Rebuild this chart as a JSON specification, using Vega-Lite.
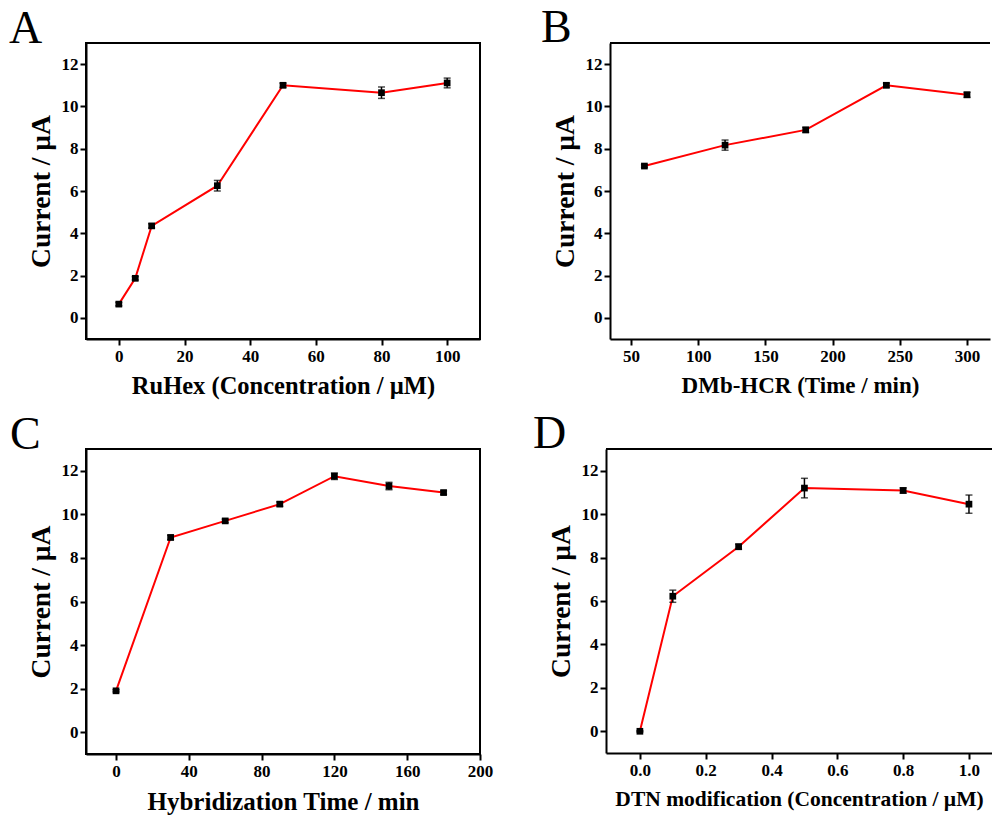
{
  "$schema": "https://vega.github.io/schema/vega-lite/v6.json",
  "background": "white",
  "padding": {"left": 8, "top": 5, "right": 0, "bottom": 0},
  "datasets": {
    "A": [
      {"x": 0, "y": 0.65, "err": 0.08},
      {"x": 5, "y": 1.87, "err": 0.08},
      {"x": 10, "y": 4.35, "err": 0.1},
      {"x": 30, "y": 6.25, "err": 0.25},
      {"x": 50, "y": 11.0, "err": 0.1},
      {"x": 80, "y": 10.65, "err": 0.27},
      {"x": 100, "y": 11.11, "err": 0.23}
    ],
    "B": [
      {"x": 60, "y": 7.18, "err": 0.06},
      {"x": 120, "y": 8.17, "err": 0.24},
      {"x": 180, "y": 8.89, "err": 0.12},
      {"x": 240, "y": 11.0, "err": 0.1},
      {"x": 300, "y": 10.55, "err": 0.12}
    ],
    "C": [
      {"x": 0, "y": 1.9, "err": 0.05},
      {"x": 30, "y": 8.94, "err": 0.1},
      {"x": 60, "y": 9.7, "err": 0.08},
      {"x": 90, "y": 10.47, "err": 0.1},
      {"x": 120, "y": 11.75, "err": 0.15},
      {"x": 150, "y": 11.3, "err": 0.17},
      {"x": 180, "y": 11.0, "err": 0.08}
    ],
    "D": [
      {"x": 0.0, "y": 0.0, "err": 0.03},
      {"x": 0.1, "y": 6.22, "err": 0.28},
      {"x": 0.3, "y": 8.5, "err": 0.12},
      {"x": 0.5, "y": 11.2, "err": 0.45},
      {"x": 0.8, "y": 11.09, "err": 0.12},
      {"x": 1.0, "y": 10.46, "err": 0.42}
    ]
  },
  "spacing": 12,
  "vconcat": [
    {
      "hconcat": [
        {
          "width": 394, "height": 296,
          "title": {"text": "A", "dx": -77},
          "data": {"name": "A"},
          "layer": [
            {
              "mark": {"type": "line", "color": "#ff0000", "strokeWidth": 2},
              "encoding": {
                "x": {"field": "x", "type": "quantitative", "title": "RuHex (Concentration / µM)", "scale": {"domain": [-10, 110], "nice": false, "zero": false},
                  "axis": {"values": [0, 10, 20, 30, 40, 50, 60, 70, 80, 90, 100], "titleFontSize": 24.5,
                    "labelExpr": "datum.value % 20 === 0 ? datum.label : ''",
                    "tickSize": {"condition": {"test": "datum.value % 20 !== 0", "value": 3}, "value": 6}}},
                "y": {"field": "y", "type": "quantitative", "title": "Current / µA", "scale": {"domain": [-1, 13], "nice": false, "zero": false},
                  "axis": {"values": [0, 1, 2, 3, 4, 5, 6, 7, 8, 9, 10, 11, 12],
                    "labelExpr": "datum.value % 2 === 0 ? datum.label : ''",
                    "tickSize": {"condition": {"test": "datum.value % 2 !== 0", "value": 3}, "value": 6}}}
              }
            },
            {
              "mark": {"type": "errorbar", "ticks": {"size": 7, "thickness": 1.5, "color": "black"}, "color": "black", "thickness": 1.5},
              "encoding": {
                "x": {"field": "x", "type": "quantitative", "title": "RuHex (Concentration / µM)", "scale": {"domain": [-10, 110], "nice": false, "zero": false}},
                "y": {"field": "y", "type": "quantitative", "title": "Current / µA", "scale": {"domain": [-1, 13], "nice": false, "zero": false}},
                "yError": {"field": "err"}
              }
            },
            {
              "mark": {"type": "square", "size": 45, "color": "black", "opacity": 1},
              "encoding": {
                "x": {"field": "x", "type": "quantitative", "title": "RuHex (Concentration / µM)", "scale": {"domain": [-10, 110], "nice": false, "zero": false}},
                "y": {"field": "y", "type": "quantitative", "title": "Current / µA", "scale": {"domain": [-1, 13], "nice": false, "zero": false}}
              }
            }
          ]
        },
        {
          "width": 380, "height": 296,
          "title": {"text": "B", "dx": -69},
          "view": {"stroke": null},
          "data": {"name": "B"},
          "layer": [
            {
              "mark": {"type": "rule", "color": "black", "strokeWidth": 2},
              "encoding": {"y": {"datum": 13, "title": "Current / µA", "scale": {"domain": [-1, 13], "nice": false, "zero": false}}}
            },
            {
              "mark": {"type": "line", "color": "#ff0000", "strokeWidth": 2},
              "encoding": {
                "x": {"field": "x", "type": "quantitative", "title": "DMb-HCR (Time / min)", "scale": {"domain": [34.4, 317.1], "nice": false, "zero": false},
                  "axis": {"values": [50, 75, 100, 125, 150, 175, 200, 225, 250, 275, 300], "titleFontSize": 23,
                    "labelExpr": "datum.value % 50 === 0 ? datum.label : ''",
                    "tickSize": {"condition": {"test": "datum.value % 50 !== 0", "value": 3}, "value": 6}}},
                "y": {"field": "y", "type": "quantitative", "title": "Current / µA", "scale": {"domain": [-1, 13], "nice": false, "zero": false},
                  "axis": {"values": [0, 1, 2, 3, 4, 5, 6, 7, 8, 9, 10, 11, 12],
                    "labelExpr": "datum.value % 2 === 0 ? datum.label : ''",
                    "tickSize": {"condition": {"test": "datum.value % 2 !== 0", "value": 3}, "value": 6}}}
              }
            },
            {
              "mark": {"type": "errorbar", "ticks": {"size": 7, "thickness": 1.5, "color": "black"}, "color": "black", "thickness": 1.5},
              "encoding": {
                "x": {"field": "x", "type": "quantitative", "title": "DMb-HCR (Time / min)", "scale": {"domain": [34.4, 317.1], "nice": false, "zero": false}},
                "y": {"field": "y", "type": "quantitative", "title": "Current / µA", "scale": {"domain": [-1, 13], "nice": false, "zero": false}},
                "yError": {"field": "err"}
              }
            },
            {
              "mark": {"type": "square", "size": 45, "color": "black", "opacity": 1},
              "encoding": {
                "x": {"field": "x", "type": "quantitative", "title": "DMb-HCR (Time / min)", "scale": {"domain": [34.4, 317.1], "nice": false, "zero": false}},
                "y": {"field": "y", "type": "quantitative", "title": "Current / µA", "scale": {"domain": [-1, 13], "nice": false, "zero": false}}
              }
            }
          ]
        }
      ],
      "spacing": 60
    },
    {
      "hconcat": [
        {
          "width": 394, "height": 305,
          "title": {"text": "C", "dx": -76},
          "data": {"name": "C"},
          "layer": [
            {
              "mark": {"type": "line", "color": "#ff0000", "strokeWidth": 2},
              "encoding": {
                "x": {"field": "x", "type": "quantitative", "title": "Hybridization Time / min", "scale": {"domain": [-16.5, 200.01], "nice": false, "zero": false},
                  "axis": {"values": [0, 20, 40, 60, 80, 100, 120, 140, 160, 180, 200], "labelFlush": false, "titleFontSize": 25,
                    "labelExpr": "datum.value % 40 === 0 ? datum.label : ''",
                    "tickSize": {"condition": {"test": "datum.value % 40 !== 0", "value": 3}, "value": 6}}},
                "y": {"field": "y", "type": "quantitative", "title": "Current / µA", "scale": {"domain": [-1, 13], "nice": false, "zero": false},
                  "axis": {"values": [0, 1, 2, 3, 4, 5, 6, 7, 8, 9, 10, 11, 12],
                    "labelExpr": "datum.value % 2 === 0 ? datum.label : ''",
                    "tickSize": {"condition": {"test": "datum.value % 2 !== 0", "value": 3}, "value": 6}}}
              }
            },
            {
              "mark": {"type": "errorbar", "ticks": {"size": 7, "thickness": 1.5, "color": "black"}, "color": "black", "thickness": 1.5},
              "encoding": {
                "x": {"field": "x", "type": "quantitative", "title": "Hybridization Time / min", "scale": {"domain": [-16.5, 200.01], "nice": false, "zero": false}},
                "y": {"field": "y", "type": "quantitative", "title": "Current / µA", "scale": {"domain": [-1, 13], "nice": false, "zero": false}},
                "yError": {"field": "err"}
              }
            },
            {
              "mark": {"type": "square", "size": 45, "color": "black", "opacity": 1},
              "encoding": {
                "x": {"field": "x", "type": "quantitative", "title": "Hybridization Time / min", "scale": {"domain": [-16.5, 200.01], "nice": false, "zero": false}},
                "y": {"field": "y", "type": "quantitative", "title": "Current / µA", "scale": {"domain": [-1, 13], "nice": false, "zero": false}}
              }
            }
          ]
        },
        {
          "width": 386, "height": 304,
          "title": {"text": "D", "dx": -73},
          "view": {"stroke": null},
          "data": {"name": "D"},
          "layer": [
            {
              "mark": {"type": "rule", "color": "black", "strokeWidth": 2},
              "encoding": {"y": {"datum": 13, "title": "Current / µA", "scale": {"domain": [-1, 13], "nice": false, "zero": false}}}
            },
            {
              "mark": {"type": "line", "color": "#ff0000", "strokeWidth": 2},
              "encoding": {
                "x": {"field": "x", "type": "quantitative", "title": "DTN modification (Concentration / µM)", "scale": {"domain": [-0.103, 1.07], "nice": false, "zero": false},
                  "axis": {"values": [0, 0.1, 0.2, 0.3, 0.4, 0.5, 0.6, 0.7, 0.8, 0.9, 1.0], "titleFontSize": 21.5,
                    "labelExpr": "round(datum.value * 10) % 2 === 0 ? format(datum.value, '.1f') : ''",
                    "tickSize": {"condition": {"test": "round(datum.value * 10) % 2 !== 0", "value": 3}, "value": 6}}},
                "y": {"field": "y", "type": "quantitative", "title": "Current / µA", "scale": {"domain": [-1, 13], "nice": false, "zero": false},
                  "axis": {"values": [0, 1, 2, 3, 4, 5, 6, 7, 8, 9, 10, 11, 12],
                    "labelExpr": "datum.value % 2 === 0 ? datum.label : ''",
                    "tickSize": {"condition": {"test": "datum.value % 2 !== 0", "value": 3}, "value": 6}}}
              }
            },
            {
              "mark": {"type": "errorbar", "ticks": {"size": 7, "thickness": 1.5, "color": "black"}, "color": "black", "thickness": 1.5},
              "encoding": {
                "x": {"field": "x", "type": "quantitative", "title": "DTN modification (Concentration / µM)", "scale": {"domain": [-0.103, 1.07], "nice": false, "zero": false}},
                "y": {"field": "y", "type": "quantitative", "title": "Current / µA", "scale": {"domain": [-1, 13], "nice": false, "zero": false}},
                "yError": {"field": "err"}
              }
            },
            {
              "mark": {"type": "square", "size": 45, "color": "black", "opacity": 1},
              "encoding": {
                "x": {"field": "x", "type": "quantitative", "title": "DTN modification (Concentration / µM)", "scale": {"domain": [-0.103, 1.07], "nice": false, "zero": false}},
                "y": {"field": "y", "type": "quantitative", "title": "Current / µA", "scale": {"domain": [-1, 13], "nice": false, "zero": false}}
              }
            }
          ]
        }
      ],
      "spacing": 39
    }
  ],
  "config": {
    "font": "Liberation Serif",
    "view": {"stroke": "black", "strokeWidth": 2},
    "title": {"font": "Liberation Serif", "fontSize": 46, "fontWeight": "normal", "color": "black", "anchor": "start", "frame": "group", "baseline": "alphabetic", "offset": 0, "dy": 14},
    "axis": {
      "grid": false,
      "labelOverlap": false,
      "domainColor": "black", "domainWidth": 2,
      "tickColor": "black", "tickWidth": 2,
      "labelFont": "Liberation Serif", "labelFontWeight": "bold", "labelFontSize": 17, "labelColor": "black", "labelPadding": 2,
      "titleFont": "Liberation Serif", "titleFontWeight": "bold", "titleColor": "black"
    },
    "axisX": {"titlePadding": 10, "labelPadding": 3},
    "axisY": {"titleFontSize": 27.5, "titlePadding": 6}
  }
}
